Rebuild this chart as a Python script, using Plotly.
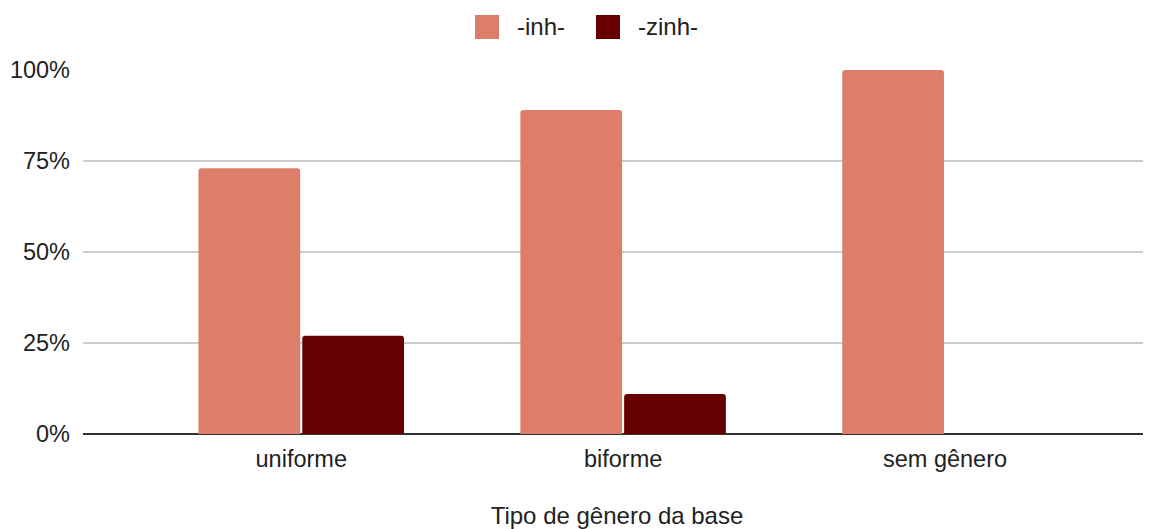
import plotly.graph_objects as go

categories = ["uniforme", "biforme", "sem gênero"]
inh_values = [0.73, 0.89, 1.00]
zinh_values = [0.27, 0.11, 0.00]
series_names = ["-inh-", "-zinh-"]
series_colors = ["#dd7e6b", "#660000"]
y_ticks = [0, 0.25, 0.5, 0.75, 1.0]
y_tick_labels = ["0%", "25%", "50%", "75%", "100%"]

FONT = "Liberation Sans, Arial, sans-serif"
TXT = "#222222"
OFF = 8  # default page body margin

# plot area in page pixels
L, T, W, H = 83, 70, 1068, 364
FIG_W, FIG_H = 1151 - OFF, 529 - OFF

fig = go.Figure()
for name, vals, col in zip(series_names, [inh_values, zinh_values], series_colors):
    fig.add_trace(go.Bar(x=categories, y=vals, name=name, showlegend=False,
                         marker=dict(color=col, cornerradius=3, line=dict(width=0))))

def px_x(x):
    return (x - L) / W
def px_y(y):
    return (T + H - y) / H

# Manual legend (large rounded squares like the reference)
legend_items = [(475, 515), (596, 636)]
for (mx, tx), name, col in zip(legend_items, series_names, series_colors):
    fig.add_shape(type="rect", xref="paper", yref="paper",
                  x0=px_x(mx), x1=px_x(mx + 24), y0=px_y(39), y1=px_y(15),
                  fillcolor=col, line=dict(width=0), layer="above")
    fig.add_annotation(xref="paper", yref="paper", x=px_x(tx), y=px_y(27),
                       xanchor="left", yanchor="middle", text=name, showarrow=False,
                       font=dict(family=FONT, size=24, color=TXT))

fig.update_layout(
    width=FIG_W, height=FIG_H,
    margin=dict(l=L - OFF, r=FIG_W - (L - OFF) - W, t=T - OFF,
                b=FIG_H - (T - OFF) - H, autoexpand=False),
    paper_bgcolor="white", plot_bgcolor="white",
    font=dict(family=FONT, size=23.5, color=TXT),
    barmode="group", bargap=0.355, bargroupgap=0.02,
    showlegend=False,
    xaxis=dict(range=[-0.678, 2.64], showgrid=False, showline=False, ticks="",
               tickfont=dict(size=23.5, color=TXT), ticklabelstandoff=8,
               title=dict(text="Tipo de gênero da base", standoff=41,
                          font=dict(size=24, color=TXT))),
    yaxis=dict(range=[0, 1], tickvals=y_ticks, ticktext=y_tick_labels,
               showgrid=True, gridcolor="#cccccc", gridwidth=1.5,
               zeroline=True, zerolinecolor="#333333", zerolinewidth=1.5,
               showline=False, ticks="", ticklabelstandoff=12,
               tickfont=dict(size=23.5, color=TXT)),
)

fig.write_html("out.html")
